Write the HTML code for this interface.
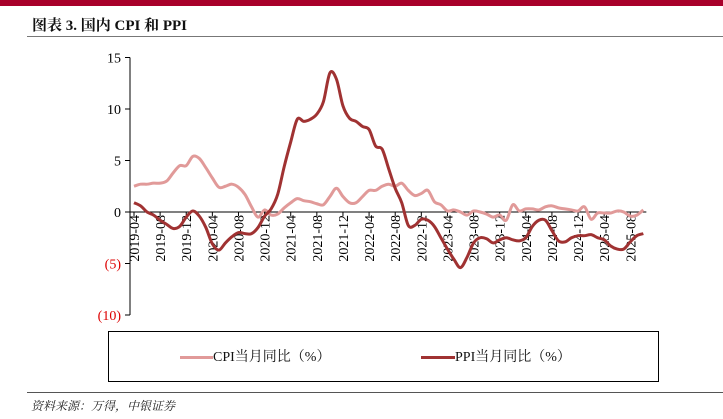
<!DOCTYPE html>
<html><head><meta charset="utf-8"><style>
body{margin:0;width:723px;height:419px;background:#fff;overflow:hidden;position:relative;font-family:"Liberation Serif","Noto Serif CJK SC",serif}
</style></head><body>
<div style="position:absolute;left:0;top:0;width:723px;height:6px;background:#a8002a"></div>
<div style="position:absolute;left:32px;top:14px;font-size:15px;font-weight:bold;color:#111;font-family:'Liberation Serif','Noto Serif CJK SC',serif">图表 3.  国内 CPI 和 PPI</div>
<div style="position:absolute;left:27px;top:36px;width:696px;height:1px;background:#777"></div>
<svg id="chart" width="723" height="419" style="position:absolute;left:0;top:0"></svg>
<div style="position:absolute;left:108px;top:331px;width:551px;height:51px;border:1px solid #000;box-sizing:border-box"></div>
<div style="position:absolute;left:180px;top:346px;font-size:14px;color:#111;white-space:nowrap"><span style="display:inline-block;width:33px;height:3px;background:#e19a99;vertical-align:middle"></span>CPI当月同比（%）</div>
<div style="position:absolute;left:421px;top:346px;font-size:14px;color:#111;white-space:nowrap"><span style="display:inline-block;width:34px;height:3px;background:#a03232;vertical-align:middle"></span>PPI当月同比（%）</div>
<div style="position:absolute;left:27px;top:392px;width:696px;height:1px;background:#555"></div>
<div style="position:absolute;left:31px;top:397px;font-size:12px;font-style:italic;color:#222">资料来源：万得，中银证券</div>
<script>
const cpi=[2.5,2.7,2.7,2.8,2.8,3.0,3.8,4.5,4.5,5.4,5.2,4.3,3.3,2.4,2.5,2.7,2.4,1.7,0.5,-0.5,0.2,-0.3,-0.2,0.4,0.9,1.3,1.1,1.0,0.8,0.7,1.5,2.3,1.5,0.9,0.9,1.5,2.1,2.1,2.5,2.7,2.5,2.8,2.1,1.6,1.8,2.1,1.0,0.7,0.1,0.2,0.0,-0.3,0.1,0.0,-0.2,-0.5,-0.3,-0.8,0.7,0.1,0.3,0.3,0.2,0.5,0.6,0.4,0.3,0.2,0.1,0.5,-0.7,-0.1,-0.1,-0.1,0.1,0.0,-0.4,-0.3,0.2];
const ppi=[0.9,0.6,0.0,-0.3,-0.8,-1.2,-1.6,-1.4,-0.5,0.1,-0.4,-1.5,-3.1,-3.7,-3.0,-2.4,-2.0,-2.1,-2.1,-1.5,-0.4,0.3,1.7,4.4,6.8,9.0,8.8,9.0,9.5,10.7,13.5,12.9,10.3,9.1,8.8,8.3,8.0,6.4,6.1,4.2,2.3,0.9,-1.3,-1.3,-0.7,-0.8,-1.4,-2.5,-3.6,-4.6,-5.4,-4.4,-3.0,-2.5,-2.6,-3.0,-2.7,-2.5,-2.7,-2.8,-2.5,-1.4,-0.8,-0.8,-1.8,-2.8,-2.9,-2.5,-2.3,-2.3,-2.2,-2.5,-2.7,-3.3,-3.6,-3.6,-2.9,-2.3,-2.1];
const yTicks=[15,10,5,0,-5,-10];
const yTickLabels=["15","10","5","0","(5)","(10)"];
const xLabels=["2019-04","2019-08","2019-12","2020-04","2020-08","2020-12","2021-04","2021-08","2021-12","2022-04","2022-08","2022-12","2023-04","2023-08","2023-12","2024-04","2024-08","2024-12","2025-04","2025-08"];
const NS="http://www.w3.org/2000/svg";
const svg=document.getElementById('chart');
const X0=134,XS=6.53,Y0=212,YS=10.3,AX=130;
const x=i=>X0+i*XS, y=v=>Y0-v*YS;
function mk(t,a){const e=document.createElementNS(NS,t);for(const k in a)e.setAttribute(k,a[k]);svg.appendChild(e);return e;}
let ax=mk('line',{x1:AX,y1:y(15),x2:AX,y2:y(-10),stroke:'#000','stroke-width':1});


yTicks.forEach((v,i)=>{
 let t=mk('line',{x1:AX-5,y1:y(v),x2:AX,y2:y(v),stroke:'#000'});
 
 
 let l=mk('text',{x:AX-9,y:y(v)+5,'text-anchor':'end','font-size':14,fill:v<0?'#d00':'#000','font-family':'Liberation Serif,serif'});
 l.textContent=yTickLabels[i];
 
 
});
let xa=mk('line',{x1:AX,y1:y(0),x2:x(cpi.length-1)+3,y2:y(0),stroke:'#000','stroke-width':1});


xLabels.forEach((s,i)=>{
 const px=x(i*4);
 let t=mk('line',{x1:px,y1:y(0),x2:px,y2:y(0)+4,stroke:'#000'});
 
 
 let l=mk('text',{x:0,y:0,'text-anchor':'end','font-size':14,fill:'#000','font-family':'Liberation Serif,serif',transform:`translate(${px+5},${y(0)+3}) rotate(-90)`});
 l.textContent=s;
 
 
});
function smooth(arr){
 const p=arr.map((v,i)=>[x(i),y(v)]);
 let d=`M${p[0][0]},${p[0][1]}`;
 for(let i=0;i<p.length-1;i++){
  const p0=p[Math.max(0,i-1)],p1=p[i],p2=p[i+1],p3=p[Math.min(p.length-1,i+2)];
  const c1=[p1[0]+(p2[0]-p0[0])/6,p1[1]+(p2[1]-p0[1])/6],c2=[p2[0]-(p3[0]-p1[0])/6,p2[1]-(p3[1]-p1[1])/6];
  d+=` C${c1[0]},${c1[1]} ${c2[0]},${c2[1]} ${p2[0]},${p2[1]}`;
 }
 return d;
}
let c=mk('path',{d:smooth(cpi),fill:'none',stroke:'#e19a99','stroke-width':3,'stroke-linejoin':'round'});


let p=mk('path',{d:smooth(ppi),fill:'none',stroke:'#a03232','stroke-width':3,'stroke-linejoin':'round'});


</script>
</body></html>
